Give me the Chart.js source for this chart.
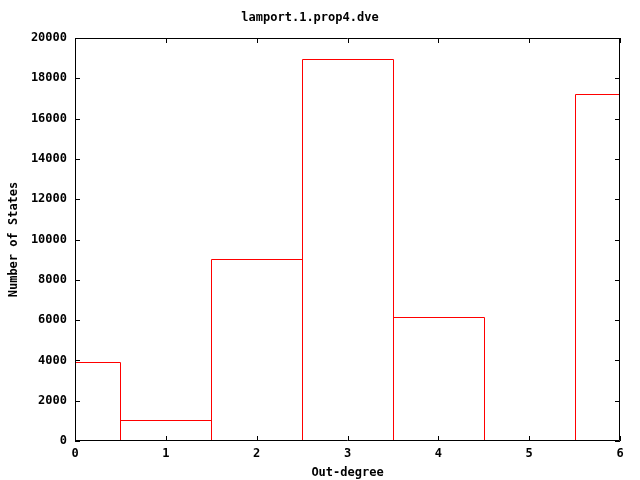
<!DOCTYPE html>
<html>
<head>
<meta charset="utf-8">
<title>lamport.1.prop4.dve</title>
<script src="https://cdn.jsdelivr.net/npm/chart.js@4/dist/chart.umd.min.js"></script>
<style>
    html, body { margin: 0; padding: 0; background: #ffffff; }
    #wrap { width: 640px; height: 480px; }
</style>
</head>
<body>
<div id="wrap"><canvas id="chartOutDegree"></canvas></div>
<script>
// Out-degree histogram data
const outDegree = [0, 1, 2, 3, 4, 5, 6];
const numStates = [3930, 1040, 9050, 18950, 6160, 0, 17200];
const yTicks = [0, 2000, 4000, 6000, 8000, 10000, 12000, 14000, 16000, 18000, 20000];
const xTicks = [0, 1, 2, 3, 4, 5, 6];

const FONT = { family: '"DejaVu Sans Mono", "Liberation Mono", monospace', size: 12, weight: 'bold' };
const BOX_COLOR = '#ff0000';

// gnuplot "with boxes" outline + framed axes with inward ticks on all sides
const gnuplotPlugin = {
    id: 'gnuplotFrame',
    afterDatasetsDraw(chart) {
        const { ctx, chartArea: a, scales } = chart;
        const bars = chart.getDatasetMeta(0).data;

        // box outlines from the bar elements, clipped to the plot area
        ctx.save();
        ctx.beginPath();
        ctx.rect(a.left, a.top, a.right - a.left, a.bottom - a.top);
        ctx.clip();
        ctx.lineWidth = 1;
        ctx.strokeStyle = BOX_COLOR;
        bars.forEach(bar => {
            const { x, y, base, width } = bar.getProps(['x', 'y', 'base', 'width'], true);
            if (Math.abs(base - y) < 0.5) return;
            const l = Math.round(x - width / 2) + 0.5;
            const r = Math.round(x + width / 2) + 0.5;
            const t = Math.round(y) + 0.5;
            const b = Math.round(base) + 0.5;
            ctx.beginPath();
            ctx.moveTo(l, b);
            ctx.lineTo(l, t);
            ctx.lineTo(r, t);
            ctx.lineTo(r, b);
            ctx.stroke();
        });
        ctx.restore();

        // border and ticks
        ctx.save();
        ctx.strokeStyle = '#000000';
        ctx.lineWidth = 1;
        ctx.beginPath();
        ctx.rect(a.left + 0.5, a.top + 0.5, a.right - a.left - 1, a.bottom - a.top - 1);
        yTicks.forEach(v => {
            const py = Math.round(scales.y.getPixelForValue(v)) + 0.5;
            ctx.moveTo(a.left, py); ctx.lineTo(a.left + 5, py);
            ctx.moveTo(a.right, py); ctx.lineTo(a.right - 5, py);
        });
        xTicks.forEach(v => {
            const px = Math.round(scales.x.getPixelForValue(v)) + 0.5;
            ctx.moveTo(px, a.bottom); ctx.lineTo(px, a.bottom - 5);
            ctx.moveTo(px, a.top); ctx.lineTo(px, a.top + 5);
        });
        ctx.stroke();
        ctx.restore();
    }
};

new Chart(document.getElementById('chartOutDegree').getContext('2d'), {
    type: 'bar',
    data: {
        datasets: [{
            label: 'lamport.1.prop4.dve',
            data: outDegree.map((d, i) => ({ x: d, y: numStates[i] })),
            backgroundColor: 'rgba(0,0,0,0)',
            borderColor: 'rgba(0,0,0,0)',
            borderWidth: 0,
            barPercentage: 1,
            categoryPercentage: 1,
            clip: 0
        }]
    },
    options: {
        responsive: true,
        maintainAspectRatio: false,
        animation: false,
        layout: { padding: { left: 0, right: 20, top: 0, bottom: 0 } },
        plugins: {
            legend: { display: false },
            tooltip: { enabled: false },
            title: {
                display: true,
                text: 'lamport.1.prop4.dve',
                color: '#000000',
                font: FONT,
                padding: { top: 10.6, bottom: 13 }
            }
        },
        scales: {
            x: {
                type: 'linear',
                min: 0,
                max: 6,
                offset: false,
                grid: { display: false, drawTicks: false },
                border: { display: false },
                afterBuildTicks: scale => { scale.ticks = xTicks.map(v => ({ value: v })); },
                afterFit: scale => { scale.height = 39; },
                ticks: { color: '#000000', font: FONT, padding: 6, maxRotation: 0,
                         callback: v => String(v) },
                title: {
                    display: true,
                    text: 'Out-degree',
                    color: '#000000',
                    font: FONT,
                    padding: { top: 0, bottom: 0 }
                }
            },
            y: {
                min: 0,
                max: 20000,
                grid: { display: false, drawTicks: false },
                border: { display: false },
                afterBuildTicks: scale => { scale.ticks = yTicks.map(v => ({ value: v })); },
                afterFit: scale => { scale.width = 75; },
                ticks: { color: '#000000', font: FONT, padding: 8,
                         callback: v => String(v) },
                title: {
                    display: true,
                    text: 'Number of States',
                    color: '#000000',
                    font: FONT,
                    padding: { top: 7, bottom: 0 }
                }
            }
        }
    },
    plugins: [gnuplotPlugin]
});
</script>
</body>
</html>
